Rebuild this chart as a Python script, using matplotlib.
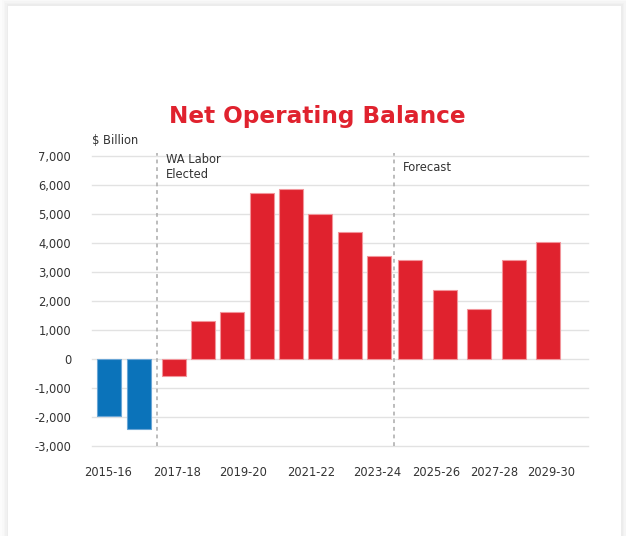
import matplotlib.pyplot as plt
from matplotlib.patches import Rectangle

# Net operating balance, $ billion
years = ["2015-16", "2016-17", "2017-18", "2018-19", "2019-20", "2020-21",
         "2021-22", "2022-23", "2023-24", "2024-25", "2025-26", "2026-27",
         "2027-28", "2028-29", "2029-30"]
balance = [-1970, -2410, -590, 1300, 1630, 5720, 5880, 5010, 4390, 3570,
           3430, 2380, 1720, 3430, 4030]
tick_years = ["2015-16", "2017-18", "2019-20", "2021-22", "2023-24",
              "2025-26", "2027-28", "2029-30"]
yticks = [-3000, -2000, -1000, 0, 1000, 2000, 3000, 4000, 5000, 6000, 7000]

RED = "#e0222e"
BLUE = "#0b73ba"
TEXT = "#333333"

# three blocks of bars: previous govt, WA Labor, forecast
group_start = [16.7, 81.7, 318.0]
group_pitch = [30.6, 29.3, 34.6]
group_count = [2, 8, 5]
xpos = []
for s, p, n in zip(group_start, group_pitch, group_count):
    xpos += [s + i * p for i in range(n)]
colors = [BLUE] * group_count[0] + [RED] * (len(years) - group_count[0])
edges = ["#6aa6d6"] * group_count[0] + ["#f2959b"] * (len(years) - group_count[0])
tick_x = [16, 85, 151.5, 219, 285.5, 344, 401.7, 459.5]
dividers = [64.7, 301.7]

fig = plt.figure(figsize=(6.26, 5.36), dpi=100)
fig.patch.set_facecolor("white")

# card with a soft shadow
for i, a in enumerate([0.025, 0.025, 0.03, 0.035, 0.04]):
    d = (5 - i) * 1.6
    fig.patches.append(Rectangle(((8.3 - d) / 626, -0.1), (612.7 + 2 * d) / 626,
                                 (536 - 6 + d) / 536 + 0.1, transform=fig.transFigure,
                                 facecolor="#888888", alpha=a, edgecolor="none", zorder=-2))
fig.patches.append(Rectangle((8.3 / 626, -0.1), 612.7 / 626, (536 - 6) / 536 + 0.1,
                             transform=fig.transFigure, facecolor="white",
                             edgecolor="none", zorder=-1))

ax = fig.add_axes([92 / 626, 1 - 446.3 / 536, 496 / 626, (446.3 - 156) / 536])
ax.set_facecolor("none")
ax.set_zorder(1)

ax.bar(xpos, balance, width=24, color=colors, edgecolor=edges, linewidth=0.8, zorder=3)

ax.set_xlim(0, 496)
ax.set_ylim(-3000, 7000)
ax.set_yticks(yticks)
ax.set_yticklabels([f"{v:,}" for v in yticks], fontsize=8.3, color=TEXT)
ax.yaxis.grid(True, color="#e2e2e2", linewidth=1.0, zorder=0)
ax.set_axisbelow(True)
for gl in ax.get_ygridlines():
    gl.set_clip_on(False)
ax.set_xticks(tick_x)
ax.set_xticklabels(tick_years, fontsize=8.3, color=TEXT)
ax.tick_params(length=0, pad=14)
ax.tick_params(axis="y", pad=15)
for s in ax.spines.values():
    s.set_visible(False)

for d in dividers:
    ax.axvline(d, ymin=0, ymax=1.01, color="#aaaaaa", linewidth=1.1,
               linestyle=(0, (2.5, 2.5)), zorder=2, clip_on=False)

ax.text(74, 6620, "WA Labor\nElected", fontsize=8.3, color=TEXT, va="center",
        linespacing=1.15)
ax.text(310.5, 6620, "Forecast", fontsize=8.3, color=TEXT, va="center")
ax.text(0, 7520, "$ Billion", fontsize=8.3, color=TEXT, va="center")

fig.text(317 / 626, 1 - 117 / 536, "Net Operating Balance", fontsize=16.7,
         fontweight="bold", family="DejaVu Sans", color=RED, ha="center", va="center")

fig.savefig("out.png", dpi=100, facecolor=fig.get_facecolor())
